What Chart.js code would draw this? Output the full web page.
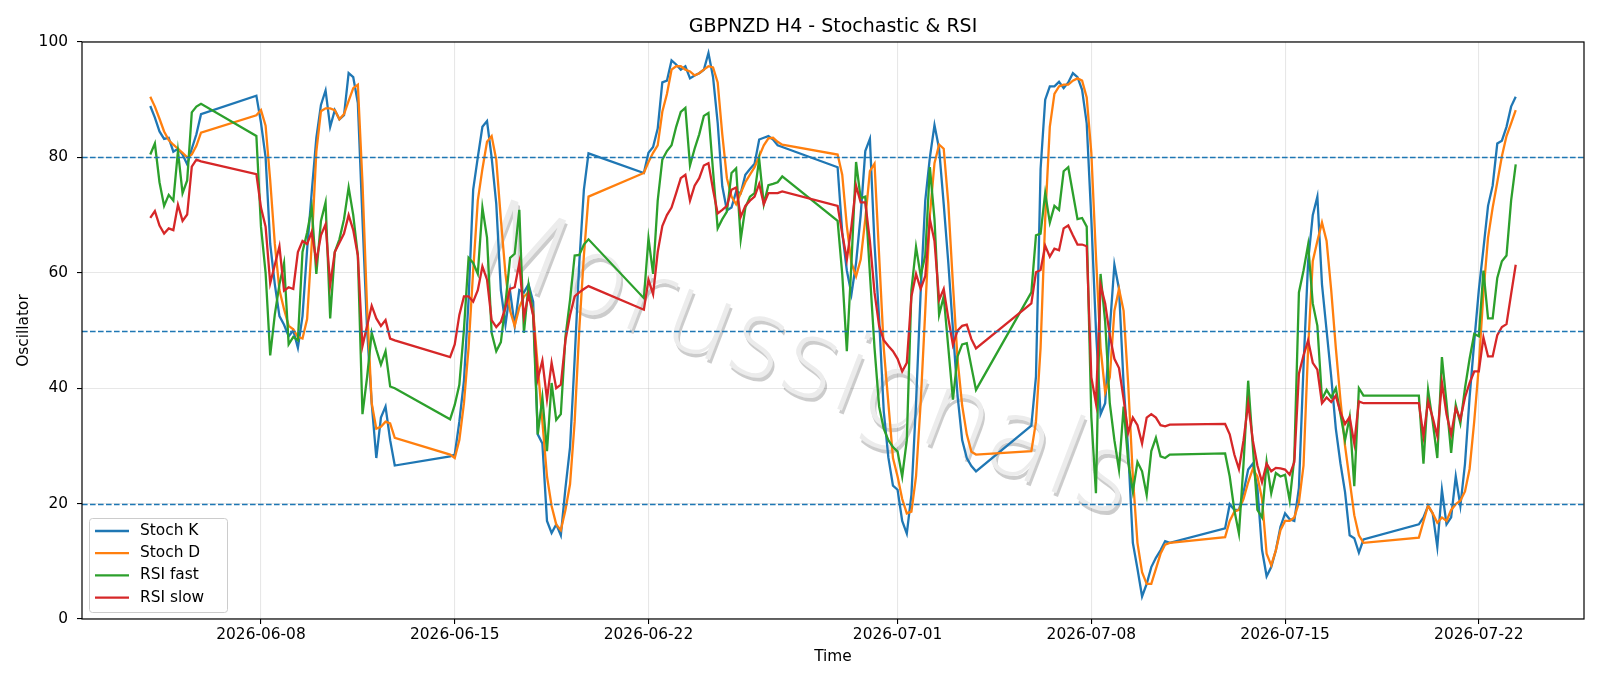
<!DOCTYPE html>
<html>
<head>
<meta charset="utf-8">
<script src="https://cdn.jsdelivr.net/npm/chart.js@4.4.1/dist/chart.umd.min.js"></script>
<style>
  html, body { margin: 0; padding: 0; background: #fff; }
</style>
</head>
<body>
<canvas id="myChart" width="1600" height="686"></canvas>
<script>
// values, one per H4 bar (2026-06-04 00:00 .. 2026-07-23 08:00)
const stochK = [
  88.9, 86.9, 84.5, 83.2, 83.4, 81.0, 81.5, 80.5, 78.8, 81.5, 84.0, 87.5,
  90.7, 86.0, 80.0, 65.0, 58.0, 52.5, 51.0, 49.0, 50.0, 47.0, 52.5, 64.0, 74.0, 83.4, 89.1, 91.6, 85.3, 88.2, 86.6,
  87.3, 94.6, 93.9, 89.4, 69.3, 50.2, 37.4, 27.9, 34.9, 36.8, 31.0, 26.6,
  28.2, 28.5, 34.2, 41.3, 55.3, 74.4, 80.0, 85.3, 86.3, 80.0, 72.0, 57.0, 51.0, 56.8, 50.8, 57.0, 56.6, 58.0, 55.0,
  32.0, 30.4, 17.0, 14.9, 16.4, 14.5, 22.7, 29.8, 45.1, 61.7, 74.4, 80.7,
  77.3, 80.8, 81.8, 85.0, 93.0, 93.3, 96.8, 96.1, 95.2, 95.8, 93.7, 94.2, 94.6, 95.2, 98.1, 93.9, 86.0, 75.0, 70.8,
  71.3, 74.1, 73.8, 77.0, 78.0, 78.9, 83.1, 83.4, 83.7, 83.1, 82.1, 81.8,
  78.3, 67.0, 60.4, 56.3, 61.7, 70.0, 81.1, 83.2, 65.0, 52.0, 36.0, 28.0, 23.1, 22.4, 17.0, 14.8, 21.5, 37.4, 56.6,
  72.5, 80.0, 85.6, 81.5, 71.9, 61.7, 50.2, 38.7, 31.0, 27.9, 26.5, 25.6,
  33.5, 42.0, 78.0, 90.0, 92.3, 92.3, 93.1, 92.0, 93.0, 94.6, 93.9, 91.7, 85.9, 69.3, 50.2, 35.5, 37.4, 50.2, 61.4,
  57.2, 40.6, 29.1, 13.2, 8.7, 3.9, 6.1, 9.0, 10.6, 11.9, 13.5, 13.2,
  15.7, 19.9, 18.9, 18.9, 22.0, 25.9, 26.9, 22.7, 12.0, 7.4, 9.0, 11.9, 16.0, 18.3, 17.3, 17.0, 22.7, 43.8, 62.0,
  70.0, 73.2, 58.0, 50.0, 42.0, 33.0, 27.0, 22.0, 14.5, 14.0, 11.5, 13.8,
  16.4, 17.6, 19.6, 18.3, 12.5, 22.4, 16.4, 17.6, 24.7, 19.6, 26.9, 38.4, 48.0, 57.0, 64.2, 71.6, 75.1, 82.4, 82.9,
  85.3, 88.8, 90.5
];
const stochD = [
  90.5, 88.8, 86.7, 84.5, 83.0, 82.2, 81.5, 80.8, 80.0, 80.5, 82.0, 84.3,
  87.3, 88.2, 85.5, 76.0, 65.0, 57.0, 53.7, 50.8, 50.2, 48.9, 48.6, 52.0, 65.0, 81.0, 88.0, 88.5, 88.5, 88.2, 86.6,
  87.5, 89.8, 92.0, 92.6, 75.7, 54.0, 37.4, 33.0, 33.3, 34.2, 33.9, 31.4,
  28.5, 27.9, 31.0, 37.4, 47.0, 60.4, 72.5, 78.0, 82.7, 83.7, 79.6, 69.3, 59.8, 53.4, 50.8, 54.0, 55.9, 56.6, 53.4,
  43.8, 34.2, 24.7, 19.6, 16.4, 15.4, 18.9, 23.4, 34.2, 50.2, 63.0, 73.2,
  77.3, 79.2, 80.8, 82.1, 87.9, 91.0, 95.2, 95.8, 95.8, 95.2, 94.9, 94.2, 94.6, 95.2, 95.8, 95.6, 93.0, 84.0, 76.4,
  73.2, 71.9, 73.8, 75.7, 77.0, 78.3, 80.2, 82.1, 83.3, 83.4, 82.7, 82.2,
  80.5, 77.0, 68.1, 61.7, 59.4, 62.3, 69.3, 77.6, 78.9, 63.0, 47.0, 37.4, 27.9, 24.7, 20.8, 18.3, 18.6, 24.7, 37.4,
  53.4, 70.0, 79.0, 82.2, 81.5, 72.0, 58.0, 45.0, 37.0, 32.0, 29.0, 28.5,
  29.1, 34.2, 47.0, 69.3, 85.3, 91.0, 92.3, 92.6, 92.6, 93.3, 93.7, 93.3, 90.4, 80.8, 63.0, 47.0, 39.3, 41.9, 53.4,
  57.2, 53.4, 40.6, 24.7, 13.2, 8.1, 6.1, 6.1, 8.7, 11.3, 12.9, 13.2,
  14.2, 17.0, 18.6, 18.9, 20.8, 23.7, 26.0, 24.7, 20.8, 11.3, 9.3, 11.9, 15.4, 17.0, 17.0, 17.6, 20.2, 26.6, 47.0,
  62.0, 65.5, 68.7, 65.5, 57.0, 47.0, 38.0, 30.0, 24.0, 18.0, 14.5, 13.2,
  14.1, 16.9, 19.7, 18.3, 16.7, 17.6, 17.0, 18.9, 19.9, 20.5, 22.1, 26.0, 34.2, 43.8, 56.6, 66.1, 71.3, 75.7, 80.2,
  83.7, 85.9, 88.2
];
const rsiFast = [
  80.5, 82.4, 75.7, 71.6, 73.5, 72.5, 81.1, 73.8, 76.0, 87.8, 88.8, 89.3,
  83.7, 68.0, 60.0, 45.7, 52.8, 58.0, 61.7, 47.6, 48.9, 48.3, 63.6, 67.0, 71.3, 59.8, 69.0, 72.2, 52.1, 63.6, 65.8,
  69.3, 74.8, 70.0, 63.0, 35.5, 41.9, 49.6, 46.7, 44.1, 46.4, 40.3, 40.0,
  34.6, 37.1, 40.6, 50.2, 62.6, 61.7, 59.8, 71.3, 66.1, 49.6, 46.4, 48.0, 54.7, 62.6, 63.3, 70.9, 49.6, 57.9, 52.7,
  32.0, 38.4, 29.1, 40.9, 34.5, 35.5, 48.9, 55.3, 63.0, 63.1, 64.9, 65.8,
  55.6, 66.0, 59.8, 72.5, 79.6, 81.1, 82.1, 85.3, 87.9, 88.6, 78.6, 81.5, 84.0, 87.2, 87.7, 77.6, 67.7, 69.3, 70.6,
  77.3, 78.1, 65.8, 71.3, 73.2, 73.8, 79.7, 71.9, 75.2, 75.4, 75.7, 76.7,
  69.0, 59.8, 46.4, 61.7, 79.2, 72.9, 73.2, 59.8, 47.0, 36.8, 33.0, 31.0, 29.8, 29.0, 24.7, 31.0, 57.0, 64.5, 59.5,
  63.0, 78.3, 69.3, 52.7, 55.9, 47.0, 38.0, 45.5, 47.6, 47.8, 43.7, 39.7,
  56.6, 66.5, 66.8, 73.8, 68.7, 71.6, 70.9, 77.6, 78.3, 73.8, 69.3, 69.5, 68.0, 35.0, 21.8, 59.8, 51.5, 37.4, 31.0,
  25.9, 36.8, 27.2, 22.1, 27.2, 25.6, 21.5, 29.1, 31.4, 28.2, 27.9, 28.5,
  28.7, 24.7, 18.9, 14.8, 27.0, 41.3, 30.0, 18.9, 17.6, 27.2, 21.8, 25.3, 24.7, 25.0, 20.5, 27.9, 56.6, 60.4, 64.9,
  54.7, 50.8, 38.1, 39.7, 38.4, 40.0, 35.5, 31.0, 35.0, 23.0, 40.0, 38.7,
  38.7, 26.9, 39.7, 34.2, 27.9, 45.4, 37.4, 28.8, 37.1, 33.9, 40.0, 45.1, 49.4, 49.0, 60.4, 52.1, 52.1, 59.1, 62.0,
  63.0, 72.5, 78.8
];
const rsiSlow = [
  69.5, 70.7, 68.2, 66.8, 67.7, 67.4, 71.8, 69.0, 70.1, 78.4, 79.6, 79.3,
  77.1, 71.3, 68.0, 58.2, 61.4, 64.6, 56.9, 57.5, 57.2, 63.6, 65.5, 65.0, 67.1, 62.0, 66.5, 68.4, 57.9, 63.6, 65.2,
  66.8, 70.0, 67.4, 63.0, 47.3, 50.8, 54.3, 52.1, 50.8, 51.8, 48.6, 48.3,
  45.4, 47.6, 52.7, 55.9, 55.9, 55.0, 57.0, 61.1, 58.8, 51.8, 50.6, 51.5, 54.0, 57.2, 57.5, 61.7, 52.4, 56.2, 52.6,
  41.6, 44.8, 38.1, 44.4, 40.0, 40.6, 48.3, 52.7, 55.9, 56.6, 57.2, 57.7,
  53.6, 58.8, 56.3, 63.6, 68.1, 70.0, 71.3, 73.8, 76.4, 77.0, 72.5, 75.1, 76.4, 78.6, 79.0, 74.4, 70.3, 70.9, 71.6,
  74.4, 74.8, 69.7, 71.6, 72.5, 73.2, 75.4, 71.9, 73.8, 73.8, 73.8, 74.1,
  71.6, 66.8, 62.3, 68.1, 75.1, 72.2, 72.2, 65.5, 56.6, 50.8, 48.3, 47.3, 46.4, 45.1, 42.9, 44.4, 55.9, 59.8, 57.2,
  59.4, 69.3, 65.5, 55.3, 57.2, 52.1, 47.5, 50.0, 50.8, 51.0, 48.5, 46.9,
  54.7, 60.1, 60.5, 64.7, 62.8, 64.2, 63.9, 67.7, 68.2, 66.5, 64.9, 64.9, 64.6, 41.9, 37.4, 57.9, 54.7, 49.2, 45.1,
  43.5, 38.1, 32.3, 34.9, 33.6, 30.4, 34.9, 35.5, 34.9, 33.6, 33.4, 33.7,
  33.8, 32.0, 28.5, 26.0, 31.0, 37.4, 31.0, 26.6, 23.7, 26.9, 25.6, 26.2, 26.1, 25.9, 25.0, 27.2, 42.5, 45.7, 48.3,
  44.4, 43.2, 37.4, 38.4, 37.6, 38.7, 35.8, 33.8, 35.0, 30.4, 37.7, 37.4,
  37.4, 31.7, 37.7, 34.9, 31.7, 41.0, 35.5, 32.0, 36.5, 34.6, 38.4, 40.9, 42.9, 42.9, 48.8, 45.5, 45.5, 49.2, 50.6,
  51.1, 56.3, 61.4
];
const tickDates = ['2026-06-08', '2026-06-15', '2026-06-22', '2026-07-01', '2026-07-08', '2026-07-15', '2026-07-22'];
const levels = [20, 50, 80];
const yTicks = [0, 20, 40, 60, 80, 100];

const DAY = 86400000;
const baseTime = Date.UTC(2026, 5, 8);

// bar times: H4 bars from Sunday 20:00 to Friday 20:00
let barDays = [];
let tt = Date.UTC(2026, 5, 4);
while (barDays.length < stochK.length) {
  const d = new Date(tt);
  const wd = d.getUTCDay();
  if ((wd >= 1 && wd <= 5) || (wd === 0 && d.getUTCHours() >= 20)) {
    barDays.push((tt - baseTime) / DAY);
  }
  tt += 4 * 3600000;
}
const tickDays = tickDates.map(s => (Date.parse(s + 'T00:00:00Z') - baseTime) / DAY);
const span = barDays[barDays.length - 1] - barDays[0];
const xMin = barDays[0] - 0.05 * span;
const xMax = barDays[barDays.length - 1] + 0.05 * span;

function pts(arr) {
  return arr.map((v, i) => ({ x: barDays[i], y: v }));
}

const FONT = 'DejaVu Sans';
const FS = 15.4;

const extras = {
  id: 'extras',
  beforeDatasetsDraw(chart) {
    const ctx = chart.ctx;
    const a = chart.chartArea;
    // watermark
    ctx.save();
    ctx.beginPath();
    ctx.rect(a.left, a.top, a.right - a.left, a.bottom - a.top);
    ctx.clip();
    ctx.translate(804, 366);
    ctx.rotate(21 * Math.PI / 180);
    ctx.font = '200 108px "' + FONT + '"';
    ctx.textAlign = 'center';
    ctx.textBaseline = 'middle';
    ctx.fillStyle = 'rgba(0,0,0,0.2)';
    ctx.fillText('Morussignals', 3, 3);
    ctx.fillStyle = 'rgba(236,236,236,1)';
    ctx.fillText('Morussignals', 0, 0);
    ctx.restore();
  },
  afterDatasetsDraw(chart) {
    const ctx = chart.ctx;
    const a = chart.chartArea;
    const y = chart.scales.y;
    // level lines
    ctx.save();
    ctx.strokeStyle = '#1f77b4';
    ctx.lineWidth = 1.5;
    ctx.setLineDash([5.6, 2.4]);
    levels.forEach(l => {
      const py = Math.round(y.getPixelForValue(l)) + 0.5;
      ctx.beginPath();
      ctx.moveTo(a.left, py);
      ctx.lineTo(a.right, py);
      ctx.stroke();
    });
    ctx.restore();

    // spines
    ctx.save();
    ctx.strokeStyle = '#000';
    ctx.lineWidth = 1.2;
    ctx.strokeRect(a.left, a.top, a.right - a.left, a.bottom - a.top);
    ctx.restore();

    // title and axis labels
    ctx.save();
    ctx.fillStyle = '#000';
    ctx.textAlign = 'center';
    ctx.textBaseline = 'middle';
    ctx.font = '19px ' + FONT;
    ctx.fillText('GBPNZD H4 - Stochastic & RSI', (a.left + a.right) / 2, 27);
    ctx.font = FS + 'px ' + FONT;
    ctx.fillText('Time', (a.left + a.right) / 2, 657);
    ctx.translate(24, (a.top + a.bottom) / 2);
    ctx.rotate(-Math.PI / 2);
    ctx.fillText('Oscillator', 0, 0);
    ctx.restore();

    // legend
    const names = chart.data.datasets.map(d => d.label);
    const colors = chart.data.datasets.map(d => d.borderColor);
    const bx = a.left + 7, bw = 138, bh = 94, by = a.bottom - 7 - bh;
    ctx.save();
    ctx.fillStyle = 'rgba(255,255,255,0.8)';
    ctx.strokeStyle = '#cccccc';
    ctx.lineWidth = 1;
    ctx.beginPath();
    ctx.roundRect(bx + 0.5, by + 0.5, bw, bh, 3);
    ctx.fill();
    ctx.stroke();
    ctx.font = FS + 'px ' + FONT;
    ctx.textBaseline = 'middle';
    ctx.textAlign = 'left';
    names.forEach((n, i) => {
      const ry = by + 13 + i * 22.2;
      ctx.strokeStyle = colors[i];
      ctx.lineWidth = 2.3;
      ctx.beginPath();
      ctx.moveTo(bx + 6, ry);
      ctx.lineTo(bx + 40, ry);
      ctx.stroke();
      ctx.fillStyle = '#000';
      ctx.fillText(n, bx + 51, ry);
    });
    ctx.restore();
  }
};

function line(label, arr, color, order) {
  return {
    label: label,
    data: pts(arr),
    borderColor: color,
    backgroundColor: color,
    borderWidth: 2.3,
    pointRadius: 0,
    tension: 0,
    fill: false,
    order: order
  };
}

const config = {
  type: 'line',
  data: {
    datasets: [
      line('Stoch K', stochK, '#1f77b4', 4),
      line('Stoch D', stochD, '#ff7f0e', 3),
      line('RSI fast', rsiFast, '#2ca02c', 2),
      line('RSI slow', rsiSlow, '#d62728', 1)
    ]
  },
  options: {
    responsive: false,
    animation: false,
    layout: { padding: { top: 42, right: 16, left: 0, bottom: 0 } },
    plugins: {
      legend: { display: false },
      tooltip: { enabled: false },
      title: { display: false }
    },
    scales: {
      x: {
        type: 'linear',
        min: xMin,
        max: xMax,
        afterBuildTicks: axis => { axis.ticks = tickDays.map(v => ({ value: v })); },
        afterFit: s => { s.height = 67; },
        ticks: {
          autoSkip: false,
          maxRotation: 0,
          padding: 2,
          color: '#000',
          font: { family: FONT, size: FS },
          callback: v => new Date(baseTime + v * DAY).toISOString().slice(0, 10)
        },
        grid: { color: 'rgba(176,176,176,0.3)', lineWidth: 1.1, tickColor: '#000', tickLength: 5 },
        border: { display: false }
      },
      y: {
        min: 0,
        max: 100,
        afterBuildTicks: axis => { axis.ticks = yTicks.map(v => ({ value: v })); },
        afterFit: s => { s.width = 82; },
        ticks: {
          padding: 9,
          color: '#000',
          font: { family: FONT, size: FS }
        },
        grid: { color: 'rgba(176,176,176,0.3)', lineWidth: 1.1, tickColor: '#000', tickLength: 5 },
        border: { display: false }
      }
    }
  },
  plugins: [extras]
};

const myChart = new Chart(document.getElementById('myChart'), config);
</script>
</body>
</html>
